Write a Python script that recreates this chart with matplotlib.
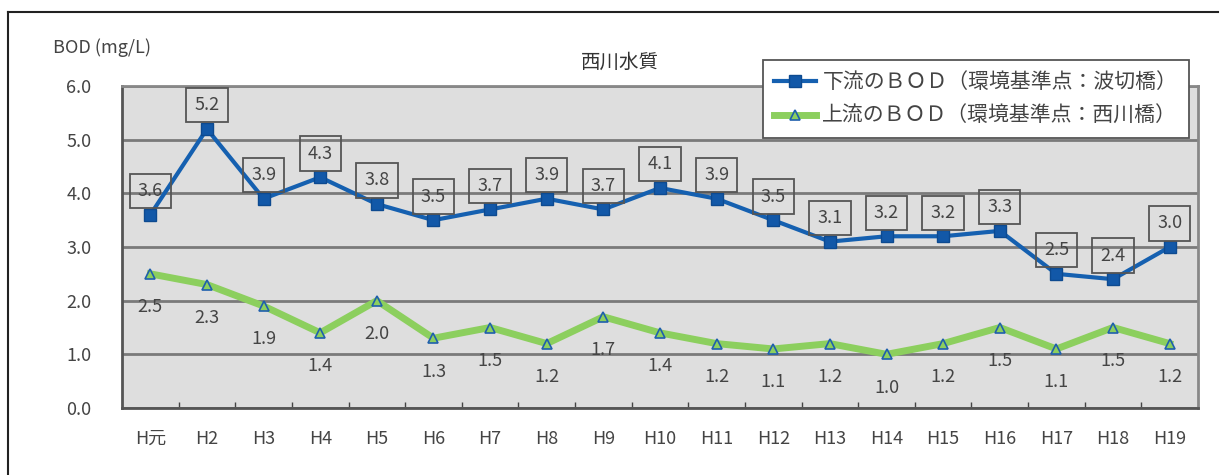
import matplotlib
matplotlib.use("Agg")
import matplotlib.pyplot as plt

plt.rcParams['font.family'] = ['Noto Sans CJK JP', 'DejaVu Sans']

# 年度と BOD の年平均値 (mg/L)
years = ["H元", "H2", "H3", "H4", "H5", "H6", "H7", "H8", "H9", "H10",
         "H11", "H12", "H13", "H14", "H15", "H16", "H17", "H18", "H19"]
bod_lower = [3.6, 5.2, 3.9, 4.3, 3.8, 3.5, 3.7, 3.9, 3.7, 4.1,
             3.9, 3.5, 3.1, 3.2, 3.2, 3.3, 2.5, 2.4, 3.0]
bod_upper = [2.5, 2.3, 1.9, 1.4, 2.0, 1.3, 1.5, 1.2, 1.7, 1.4,
             1.2, 1.1, 1.2, 1.0, 1.2, 1.5, 1.1, 1.5, 1.2]
y_ticks = [0.0, 1.0, 2.0, 3.0, 4.0, 5.0, 6.0]

label_lower = "下流のＢＯＤ（環境基準点：波切橋）"
label_upper = "上流のＢＯＤ（環境基準点：西川橋）"

W, H = 1227, 475
fig = plt.figure(figsize=(W / 100, H / 100), dpi=100)
fig.patch.set_facecolor("white")

# 外枠（上辺と左辺だけ見える）
fig.add_artist(plt.Line2D([8 / W, 1218 / W], [1 - 12 / H, 1 - 12 / H],
                          color="#222222", lw=1.5))
fig.add_artist(plt.Line2D([8 / W, 8 / W], [0, 1 - 12 / H],
                          color="#222222", lw=1.5))

ax = fig.add_axes([122 / W, 1 - 408 / H, (1198 - 122) / W, (408 - 86) / H])
ax.set_facecolor("#dedede")
x = list(range(len(years)))

ax.set_xlim(-0.5, len(years) - 0.5)
ax.set_ylim(0, 6)
ax.set_yticks(y_ticks)
ax.set_yticklabels([f"{v:.1f}" for v in y_ticks], fontsize=13, color="#444444")
ax.set_xticks(x)
ax.set_xticklabels(years, fontsize=13, color="#444444")
ax.tick_params(axis="x", length=0, pad=16)
ax.tick_params(axis="y", length=0, pad=22)
ax.set_xticks([i + 0.5 for i in x[:-1]], minor=True)
ax.tick_params(axis="x", which="minor", direction="in", length=4,
               width=1, color="#444444")

ax.grid(axis="y", color="#7a7a7a", lw=2)
ax.set_axisbelow(True)
for side in ["top", "right"]:
    ax.spines[side].set_color("#888888")
    ax.spines[side].set_linewidth(2)
for side in ["left", "bottom"]:
    ax.spines[side].set_color("#555555")
    ax.spines[side].set_linewidth(2)

ax.plot(x, bod_lower, color="#1560b0", lw=3, marker="s", ms=8,
        markerfacecolor="#1258a8", markeredgecolor="#0d4a90",
        label=label_lower, zorder=4)
ax.plot(x, bod_upper, color="#8ccf5e", lw=5, marker="^", ms=7,
        markerfacecolor="#8ccf5e", markeredgecolor="#1f5fad",
        markeredgewidth=1.2, label=label_upper, zorder=3)

for xi, v in zip(x, bod_lower):
    ax.annotate(f"{v:.1f}", (xi, v), xytext=(0, 17), textcoords="offset points",
                ha="center", va="center", fontsize=13, color="#444444",
                bbox=dict(boxstyle="square,pad=0.45", fc="none",
                          ec="#555555", lw=1.3), zorder=5)
for xi, v in zip(x, bod_upper):
    ax.annotate(f"{v:.1f}", (xi, v), xytext=(0, -24), textcoords="offset points",
                ha="center", va="center", fontsize=13, color="#444444",
                zorder=5)

fig.text(620 / W, 1 - 62 / H, "西川水質", ha="center", va="center",
         fontsize=14, color="#333333")
fig.text(53 / W, 1 - 48 / H, "BOD (mg/L)", ha="left", va="center",
         fontsize=13, color="#444444")

leg = fig.legend(loc="upper left", bbox_to_anchor=(763 / W, 1 - 60 / H),
                 fontsize=15, frameon=True, fancybox=False, handlelength=2.0,
                 borderpad=0.55, labelspacing=0.55, handletextpad=0.3,
                 borderaxespad=0)
leg.get_frame().set_edgecolor("#555555")
leg.get_frame().set_linewidth(1.3)
leg.get_frame().set_facecolor("white")
leg.get_frame().set_alpha(1)
for t in leg.get_texts():
    t.set_color("#444444")

fig.savefig("out.png", dpi=100)
